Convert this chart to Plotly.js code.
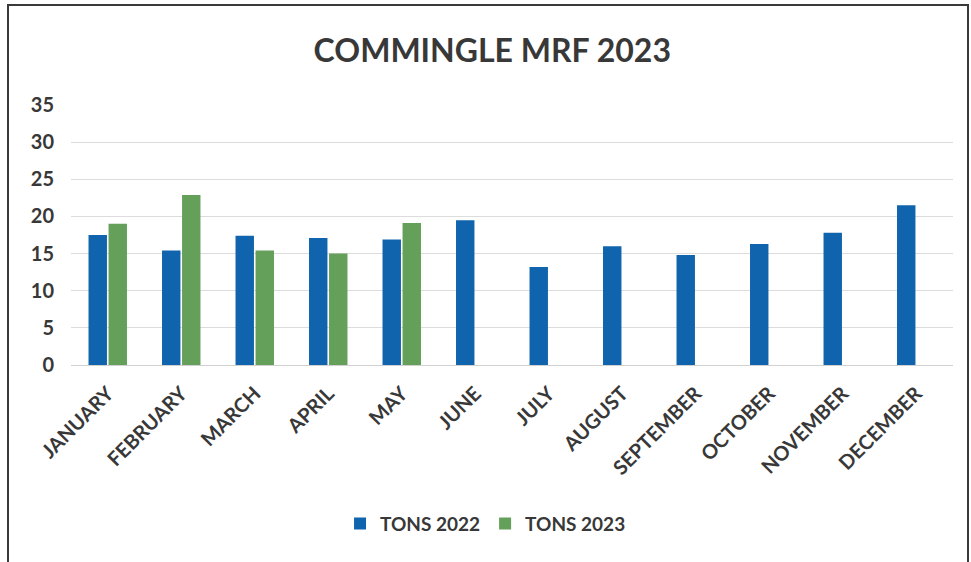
<!DOCTYPE html>
<html><head><meta charset="utf-8">
<script src="https://cdn.plot.ly/plotly-3.0.1.min.js"></script>
<style>
body{margin:0;background:#fff;}
#frame{position:absolute;left:7px;top:4px;width:962px;height:620px;border:2px solid #3a3a3a;box-sizing:border-box;}
#chart{position:absolute;left:0;top:0;width:971px;height:562px;}
</style></head>
<body>
<div id="frame"></div>
<div id="chart"></div>
<script>
const months = ["JANUARY","FEBRUARY","MARCH","APRIL","MAY","JUNE","JULY","AUGUST","SEPTEMBER","OCTOBER","NOVEMBER","DECEMBER"];
const tons2022 = [17.5, 15.4, 17.4, 17.1, 16.9, 19.5, 13.2, 16.0, 14.8, 16.3, 17.8, 21.5];
const tons2023 = [19.0, 22.9, 15.4, 15.0, 19.1, null, null, null, null, null, null, null];
const yTicks = [0, 5, 10, 15, 20, 25, 30, 35];

const font = "Lato, 'Open Sans', sans-serif";
const data = [
  {type:"bar", name:"TONS 2022", x:months, y:tons2022, marker:{color:"#1064ad"}},
  {type:"bar", name:"TONS 2023", x:months, y:tons2023, marker:{color:"#64a05a"}}
];
const layout = {
  width:971, height:562,
  paper_bgcolor:"rgba(0,0,0,0)", plot_bgcolor:"rgba(0,0,0,0)",
  margin:{l:71, r:18, t:105, b:197},
  barmode:"group", bargap:0.455, bargroupgap:0.08,
  title:{text:"<b>COMMINGLE MRF 2023</b>", x:0.507, xref:"container", y:0.91, yref:"container", yanchor:"middle",
         font:{family:font, size:32, color:"#383838"}},
  xaxis:{tickangle:-45, tickfont:{family:font, size:20, color:"#383838", weight:"bold"},
         showgrid:false, showline:false, ticks:"", ticklabelstandoff:12, fixedrange:true},
  yaxis:{range:[0,35], tickvals:yTicks, ticktext:yTicks.map(String),
         tickfont:{family:font, size:20, color:"#383838", weight:"bold"},
         gridcolor:"#dcdcdc", gridwidth:1, zeroline:true, zerolinecolor:"#d0d0d0", zerolinewidth:1,
         ticks:"", ticklabelstandoff:16, showline:false},
  showlegend:true,
  legend:{orientation:"h", x:0.47, xref:"paper", xanchor:"center", y:-0.61, yanchor:"middle",
          font:{family:font, size:19, color:"#383838", weight:"bold"}, itemwidth:30, traceorder:"normal"}
};
Plotly.newPlot("chart", data, layout, {displayModeBar:false, staticPlot:true});
</script>
</body></html>
